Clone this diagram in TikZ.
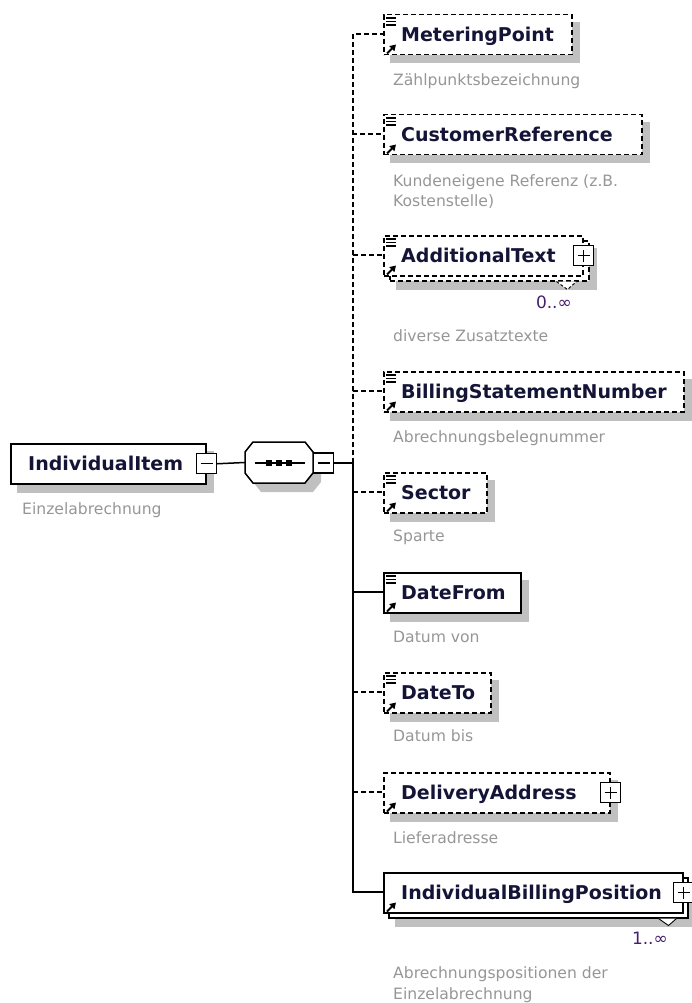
\documentclass[tikz,border=0pt]{standalone}
\usepackage{fontspec}
\setmainfont{DejaVu Sans}
\usetikzlibrary{calc,arrows.meta}
\definecolor{shgray}{RGB}{192,192,192}
\definecolor{desccol}{RGB}{150,150,150}
\definecolor{namecol}{RGB}{20,20,55}
\definecolor{multcol}{RGB}{70,30,110}
\pgfdeclarelayer{bg}
\pgfsetlayers{bg,main}
\tikzset{
  ln/.style={line width=1.5pt},
  opt/.style={dash pattern=on 5pt off 3pt},
  elbox/.style={draw, ln, fill=white, anchor=north west, minimum height=40pt, inner sep=0pt},
  ename/.style={anchor=base west, inner sep=0pt, text=namecol, font=\fontsize{19}{22}\selectfont\bfseries},
  edesc/.style={anchor=base west, inner sep=0pt, text=desccol, font=\fontsize{15.6}{20}\selectfont},
  mult/.style={anchor=base east, inner sep=0pt, text=multcol, font=\fontsize{17}{20}\selectfont},
  pmbox/.style={draw, line width=1.3pt, fill=white, minimum size=20pt, inner sep=0pt},
  minusbox/.style={pmbox, path picture={\draw[line width=1.4pt] ([xshift=4pt]path picture bounding box.west) -- ([xshift=-4pt]path picture bounding box.east);}},
  plusbox/.style={pmbox, path picture={\draw[line width=1.4pt] ([xshift=4pt]path picture bounding box.west) -- ([xshift=-4pt]path picture bounding box.east) ([yshift=-4pt]path picture bounding box.north) -- ([yshift=4pt]path picture bounding box.south);}},
  docicon/.pic={\draw[line width=1.3pt] (3,4)--(13,4) (3,7.5)--(13,7.5) (3,11)--(13,11);},
  reficon/.pic={\draw[line width=2pt,-{Triangle[length=6pt,width=7pt]}] (4,-2)--(13,-11);}
}
\begin{document}
\begin{tikzpicture}[x=1pt,y=-1pt]
\useasboundingbox (0,0) rectangle (691,1003);
\coordinate (j) at (353,463);

% ---------- root element ----------
\node[elbox, minimum width=195pt] (root) at (10,443) {};
\node[ename] (rootT) at ($(root.west)+(18,7)$) {IndividualItem};
\node[minusbox] (rootM) at (root.east) {};
\node[edesc] (rootD) at (22,514) {Einzelabrechnung};

% ---------- sequence compositor ----------
\node[inner sep=0pt, minimum width=68pt, minimum height=41pt] (seq) at (279,462.5) {};
\draw[ln, fill=white] (245,452)--(253,442)--(305,442)--(313,452)--(313,473)--(305,483)--(253,483)--(245,473)--cycle;
\draw[ln] (255,463)--(305,463);
\fill (266,460) rectangle (272,466);
\fill (276,460) rectangle (282,466);
\fill (286,460) rectangle (292,466);
\node[minusbox] (seqM) at (323.5,463) {};

\draw[ln] (rootM.east) -- (seq.west);
\draw[ln] (seqM.east) -- (j);

% ---------- connectors to children ----------
\draw[ln,opt] (j) |- (383,34) coordinate (cmp);
\draw[ln,opt] (j) |- (383,134) coordinate (ccr);
\draw[ln,opt] (j) |- (383,255) coordinate (cat);
\draw[ln,opt] (j) |- (383,391) coordinate (cbsn);
\draw[ln] (j) |- (383,892) coordinate (cibp);
\draw[ln] (j) |- (383,592) coordinate (cdf);
\draw[ln,opt] (353,492) -- (383,492) coordinate (csec);
\draw[ln,opt] (353,692) -- (383,692) coordinate (cdt);
\draw[ln,opt] (353,792) -- (383,792) coordinate (cda);

% ---------- MeteringPoint ----------
\node[elbox, opt, minimum width=188pt] (mp) at (383,14) {};
\node[ename] (mpT) at ($(mp.west)+(18,7)$) {MeteringPoint};
\pic at (mp.north west) {docicon};
\pic at (mp.south west) {reficon};
\node[edesc] (mpD) at (393,86) {Zählpunktsbezeichnung};

% ---------- CustomerReference ----------
\node[elbox, opt, minimum width=258pt] (cr) at (383,114) {};
\node[ename] (crT) at ($(cr.west)+(18,7)$) {CustomerReference};
\pic at (cr.north west) {docicon};
\pic at (cr.south west) {reficon};
\node[edesc] (crD1) at (393,186) {Kundeneigene Referenz (z.B.};
\node[edesc] (crD2) at (393,206) {Kostenstelle)};

% ---------- AdditionalText (0..unbounded) ----------
\node[elbox, opt, minimum width=199pt] (atb) at (389,240) {};
\node[elbox, opt, minimum width=199pt] (atf) at (383,235) {};
\node[ename] (atT) at ($(atf.west)+(18,7)$) {AdditionalText};
\pic at (atf.north west) {docicon};
\pic at (atf.south west) {reficon};
\node[plusbox] (atP) at (atf.east) {};
\draw[line width=0.9pt, dash pattern=on 3pt off 2pt, fill=white] ($(atb.south east)+(-33,0)$) -- ++(11,8) -- ++(9,-8);
\node[mult] (atM) at (572,308) {0..∞};
\node[edesc] (atD) at (393,341) {diverse Zusatztexte};

% ---------- BillingStatementNumber ----------
\node[elbox, opt, minimum width=300pt] (bsn) at (383,371) {};
\node[ename] (bsnT) at ($(bsn.west)+(18,7)$) {BillingStatementNumber};
\pic at (bsn.north west) {docicon};
\pic at (bsn.south west) {reficon};
\node[edesc] (bsnD) at (393,442) {Abrechnungsbelegnummer};

% ---------- Sector ----------
\node[elbox, opt, minimum width=103pt] (sec) at (383,472) {};
\node[ename] (secT) at ($(sec.west)+(18,7)$) {Sector};
\pic at (sec.north west) {docicon};
\pic at (sec.south west) {reficon};
\node[edesc] (secD) at (393,541) {Sparte};

% ---------- DateFrom ----------
\node[elbox, minimum width=137pt] (df) at (383,572) {};
\node[ename] (dfT) at ($(df.west)+(18,7)$) {DateFrom};
\pic at (df.north west) {docicon};
\pic at (df.south west) {reficon};
\node[edesc] (dfD) at (393,642) {Datum von};

% ---------- DateTo ----------
\node[elbox, opt, minimum width=107pt] (dt) at (383,672) {};
\node[ename] (dtT) at ($(dt.west)+(18,7)$) {DateTo};
\pic at (dt.north west) {docicon};
\pic at (dt.south west) {reficon};
\node[edesc] (dtD) at (393,741) {Datum bis};

% ---------- DeliveryAddress ----------
\node[elbox, opt, minimum width=226pt] (da) at (383,772) {};
\node[ename] (daT) at ($(da.west)+(18,7)$) {DeliveryAddress};
\pic at (da.south west) {reficon};
\node[plusbox] (daP) at (da.east) {};
\node[edesc] (daD) at (393,843) {Lieferadresse};

% ---------- IndividualBillingPosition (1..unbounded) ----------
\node[elbox, minimum width=299pt] (ibpb) at (388,877) {};
\node[elbox, minimum width=299pt] (ibpf) at (383,872) {};
\node[ename] (ibpT) at ($(ibpf.west)+(18,7)$) {IndividualBillingPosition};
\pic at (ibpf.south west) {reficon};
\node[plusbox] (ibpP) at (ibpf.east) {};
\draw[line width=0.9pt, fill=white] ($(ibpb.south east)+(-30,0)$) -- ++(10,7) -- ++(8,-7);
\node[mult] (ibpM) at (668,944) {1..∞};
\node[edesc] (ibpD1) at (393,978) {Abrechnungspositionen der};
\node[edesc] (ibpD2) at (393,999) {Einzelabrechnung};

% ---------- shadows ----------
\begin{pgfonlayer}{bg}
\foreach \n in {root,mp,cr,atb,bsn,sec,df,dt,da,ibpb}
  \fill[shgray] ($(\n.north west)+(7,8)$) rectangle ($(\n.south east)+(7,8)$);
\fill[shgray] (253,461)--(261,451)--(313,451)--(321,461)--(321,482)--(313,492)--(261,492)--(253,482)--cycle;
\end{pgfonlayer}
\end{tikzpicture}
\end{document}
